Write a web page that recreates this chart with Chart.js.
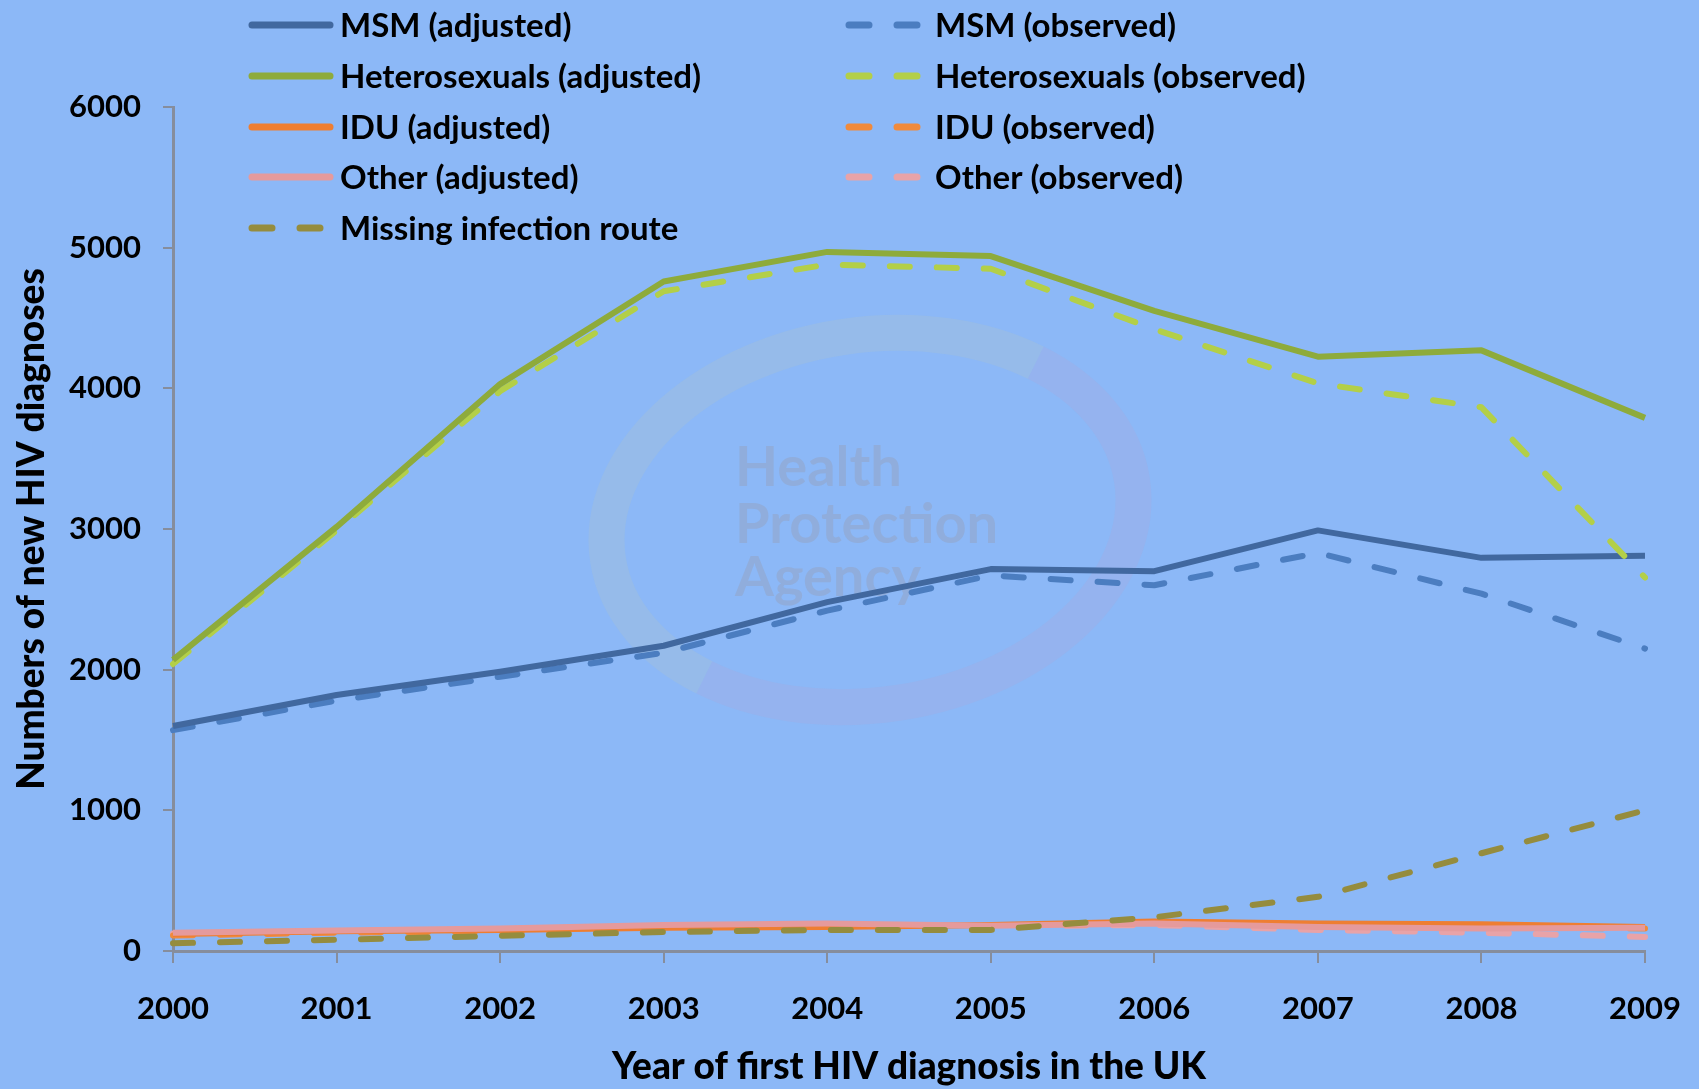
<!DOCTYPE html>
<html>
<head>
<meta charset="utf-8">
<script src="https://cdn.jsdelivr.net/npm/chart.js@4"></script>
<style>
  html, body { margin: 0; padding: 0; background: #8cb8f7; }
  canvas { display: block; }
</style>
</head>
<body>
<canvas id="chart" width="1699" height="1089"></canvas>
<script>
const years = ["2000", "2001", "2002", "2003", "2004", "2005", "2006", "2007", "2008", "2009"];
const yTicks = [0, 1000, 2000, 3000, 4000, 5000, 6000];

const msmAdjusted = [1600, 1820, 1985, 2170, 2480, 2715, 2700, 2990, 2795, 2810];
const msmObserved = [1570, 1780, 1950, 2120, 2420, 2670, 2600, 2830, 2540, 2150];
const hetAdjusted = [2070, 3015, 4030, 4760, 4970, 4940, 4550, 4225, 4270, 3790];
const hetObserved = [2040, 2990, 3980, 4690, 4880, 4850, 4420, 4035, 3865, 2655];
const iduAdjusted = [120, 140, 150, 165, 170, 185, 210, 195, 190, 170];
const iduObserved = [110, 130, 140, 155, 160, 175, 200, 180, 170, 160];
const otherAdjusted = [130, 145, 160, 185, 195, 180, 195, 170, 160, 165];
const otherObserved = [125, 140, 155, 180, 185, 175, 185, 150, 130, 100];
const missingRoute = [55, 80, 108, 135, 150, 150, 240, 385, 695, 1000];

const FONT = "Lato, 'Open Sans', sans-serif";
const axisGrey = "#868d9c";

function line(label, data, color, dashed, order) {
  return {
    label: label,
    data: data,
    borderColor: color,
    backgroundColor: color,
    borderWidth: 6,
    borderDash: dashed ? [20, 27] : [],
    borderCapStyle: dashed ? "round" : "butt",
    borderJoinStyle: "round",
    pointRadius: 0,
    tension: 0,
    fill: false,
    order: order,
    dashed: dashed
  };
}

const datasets = [
  line("MSM (adjusted)", msmAdjusted, "#41689f", false, 3),
  line("MSM (observed)", msmObserved, "#4b7dc0", true, 4),
  line("Heterosexuals (adjusted)", hetAdjusted, "#8eab3b", false, 1),
  line("Heterosexuals (observed)", hetObserved, "#b3cf48", true, 2),
  line("IDU (adjusted)", iduAdjusted, "#ee7e32", false, 7),
  line("IDU (observed)", iduObserved, "#f08a3c", true, 8),
  line("Other (adjusted)", otherAdjusted, "#e59a9c", false, 6),
  line("Other (observed)", otherObserved, "#e8a3a8", true, 9),
  line("Missing infection route", missingRoute, "#958c3e", true, 5)
];

// faint logo watermark behind the lines
const watermark = {
  id: "watermark",
  beforeDatasetsDraw(chart) {
    const ctx = chart.ctx;
    ctx.save();
    ctx.lineWidth = 36;
    ctx.strokeStyle = "rgba(225, 215, 140, 0.12)";
    ctx.beginPath();
    ctx.ellipse(870, 520, 265, 185, -0.15, Math.PI * 0.75, Math.PI * 1.75);
    ctx.stroke();
    ctx.strokeStyle = "rgba(215, 150, 185, 0.12)";
    ctx.beginPath();
    ctx.ellipse(870, 520, 265, 185, -0.15, Math.PI * 1.75, Math.PI * 2.75);
    ctx.stroke();
    ctx.fillStyle = "rgba(150, 158, 180, 0.4)";
    ctx.font = "bold 56px " + FONT;
    ctx.textBaseline = "middle";
    ctx.fillText("Health", 735, 468);
    ctx.fillText("Protection", 735, 525);
    ctx.fillText("Agency", 735, 578);
    ctx.restore();
  }
};

// two column legend, row by row
const legendCols = [{ x: 249, tx: 340 }, { x: 846, tx: 935 }];
const legendRows = [25, 76, 127, 177, 228];
const twoColLegend = {
  id: "twoColLegend",
  afterDraw(chart) {
    const ctx = chart.ctx;
    ctx.save();
    chart.data.datasets.forEach((ds, i) => {
      const col = legendCols[i % 2];
      const y = legendRows[Math.floor(i / 2)];
      ctx.strokeStyle = ds.borderColor;
      ctx.lineWidth = 7;
      ctx.lineCap = "round";
      ctx.setLineDash(ds.dashed ? [20, 28] : []);
      ctx.beginPath();
      ctx.moveTo(col.x + 3, y);
      ctx.lineTo(col.x + 81, y);
      ctx.stroke();
      ctx.setLineDash([]);
      ctx.fillStyle = "#000";
      ctx.font = "bold 33px " + FONT;
      ctx.textBaseline = "middle";
      ctx.fillText(ds.label, col.tx, y + 1);
    });
    ctx.restore();
  }
};

new Chart(document.getElementById("chart").getContext("2d"), {
  type: "line",
  data: { labels: years, datasets: datasets },
  plugins: [watermark, twoColLegend],
  options: {
    responsive: false,
    animation: false,
    layout: { padding: { top: 107, right: 54, left: 0, bottom: 0 } },
    plugins: { legend: { display: false }, tooltip: { enabled: false } },
    scales: {
      x: {
        type: "category",
        offset: false,
        afterFit(scale) {
          scale.height = 138;
          scale.paddingLeft = 0;
          scale.paddingRight = 0;
        },
        border: { color: axisGrey, width: 3 },
        grid: { drawOnChartArea: false, offset: false, tickLength: 12, color: axisGrey, lineWidth: 2 },
        ticks: { color: "#000", padding: 27, maxRotation: 0, font: { family: FONT, size: 31, weight: "bold" } },
        title: {
          display: true,
          text: "Year of first HIV diagnosis in the UK",
          color: "#000",
          padding: { top: 0, bottom: 0 },
          font: { family: FONT, size: 37, weight: "900" }
        }
      },
      y: {
        min: 0,
        max: 6000,
        afterFit(scale) { scale.width = 173; },
        afterBuildTicks(scale) { scale.ticks = yTicks.map(v => ({ value: v })); },
        border: { color: axisGrey, width: 3 },
        grid: { drawOnChartArea: false, tickLength: 10, color: axisGrey, lineWidth: 2 },
        ticks: {
          color: "#000",
          padding: 22,
          font: { family: FONT, size: 31, weight: "bold" },
          callback: v => String(v)
        },
        title: {
          display: true,
          text: "Numbers of new HIV diagnoses",
          color: "#000",
          padding: { top: 10, bottom: 0 },
          font: { family: FONT, size: 37, weight: "900" }
        }
      }
    }
  }
});
</script>
</body>
</html>
